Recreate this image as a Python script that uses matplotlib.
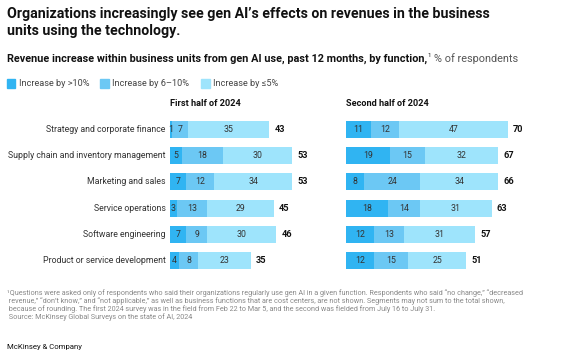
import matplotlib
matplotlib.use("Agg")
import matplotlib.pyplot as plt
import numpy as np

categories = ["Strategy and corporate finance", "Supply chain and inventory management",
              "Marketing and sales", "Service operations", "Software engineering",
              "Product or service development"]
series_names = ["Increase by >10%", "Increase by 6\u201310%", "Increase by \u22645%"]
first_gt10 = [1, 5, 7, 3, 7, 4]
first_6_10 = [7, 18, 12, 13, 9, 8]
first_le5 = [35, 30, 34, 29, 30, 23]
first_total = [43, 53, 53, 45, 46, 35]
second_gt10 = [11, 19, 8, 18, 12, 12]
second_6_10 = [12, 15, 24, 14, 13, 15]
second_le5 = [47, 32, 34, 31, 31, 25]
second_total = [70, 67, 66, 63, 57, 51]
panel_titles = ["First half of 2024", "Second half of 2024"]

colors = ["#30B4F2", "#6CC8F4", "#9EE4FC"]
FONT = "Roboto"
plt.rcParams["font.family"] = [FONT, "DejaVu Sans"]

W, H = 580, 362
fig = plt.figure(figsize=(W / 100, H / 100), dpi=100)

def fx(px):
    return px / W

def fy(py):
    return 1 - py / H

scale = 2.31
ax_top, ax_bot = 116.3, 273.7
ax1 = fig.add_axes([fx(170), fy(ax_bot), 56 * scale / W, (ax_bot - ax_top) / H])
ax2 = fig.add_axes([fx(346), fy(ax_bot), 75 * scale / W, (ax_bot - ax_top) / H])

def draw(ax, segs, totals, xmax):
    y = np.arange(len(categories))
    left = np.zeros(len(categories))
    for i, seg in enumerate(segs):
        seg = np.array(seg, dtype=float)
        ax.barh(y, seg, left=left, height=0.65, color=colors[i], edgecolor="none")
        for yy, l, v in zip(y, left, seg):
            ax.text(l + v / 2, yy, str(int(v)), ha="center", va="center",
                    fontsize=6.3, color="#333333")
        left = left + seg
    for yy, l, t in zip(y, left, totals):
        ax.text(l + 2.2, yy, str(t), ha="left", va="center", fontsize=6.6,
                fontweight="bold", color="#111111")
    ax.set_xlim(0, xmax)
    ax.set_ylim(len(categories) - 0.5, -0.5)
    ax.axis("off")

draw(ax1, [first_gt10, first_6_10, first_le5], first_total, 56)
draw(ax2, [second_gt10, second_6_10, second_le5], second_total, 75)

for yy, c in enumerate(categories):
    ax1.text(-1.8, yy, c, ha="right", va="center", fontsize=6.3, color="#333333")

fig.text(fx(170), fy(103), panel_titles[0], ha="left", va="center", fontsize=6.6,
         fontweight="bold", color="#111111")
fig.text(fx(346), fy(103), panel_titles[1], ha="left", va="center", fontsize=6.6,
         fontweight="bold", color="#111111")

# Title
fig.text(fx(7), fy(14), "Organizations increasingly see gen AI\u2019s effects on revenues in the business",
         ha="left", va="center", fontsize=10.2, fontweight="bold", color="#111111")
fig.text(fx(7), fy(31.5), "units using the technology.",
         ha="left", va="center", fontsize=10.2, fontweight="bold", color="#111111")

# Subtitle
t1 = fig.text(fx(7), fy(58.5), "Revenue increase within business units from gen AI use, past 12 months, by function,",
              ha="left", va="center", fontsize=7.8, fontweight="bold", color="#111111")
fig.canvas.draw()
bb = t1.get_window_extent()
x_end = bb.x1
fig.text(x_end / W + fx(0.5), fy(55.5), "1", ha="left", va="center", fontsize=4.3, color="#111111")
fig.text(x_end / W + fx(6.5), fy(58.5), "% of respondents", ha="left", va="center",
         fontsize=7.8, color="#555555")

# Legend
lx = [7, 100, 201]
for i, name in enumerate(series_names):
    fig.patches.append(matplotlib.patches.Rectangle((fx(lx[i]), fy(87.5)), fx(8.5), 8.5 / H,
                                                    transform=fig.transFigure,
                                                    color=colors[i]))
    fig.text(fx(lx[i] + 12), fy(83.8), name, ha="left", va="center", fontsize=6.6,
             color="#444444")

# Footnote
foot_lines = [
    "\u00b9Questions were asked only of respondents who said their organizations regularly use gen AI in a given function. "
    "Respondents who said \u201cno change,\u201d \u201cdecreased",
    " revenue,\u201d \u201cdon\u2019t know,\u201d and \u201cnot applicable,\u201d as well as business functions that are cost centers, "
    "are not shown. Segments may not sum to the total shown,",
    " because of rounding. The first 2024 survey was in the field from Feb 22 to Mar 5, and the second was fielded from July 16 to July 31.",
    " Source: McKinsey Global Surveys on the state of AI, 2024",
]
foot_y = [293.5, 301.5, 309.5, 317.5]
for line, yy in zip(foot_lines, foot_y):
    fig.text(fx(7), fy(yy), line, ha="left", va="center", fontsize=5.2, color="#888888")

fig.text(fx(7), fy(347), "McKinsey & Company", ha="left", va="center", fontsize=5.6,
         color="#111111")

fig.savefig("out.png", dpi=100)
